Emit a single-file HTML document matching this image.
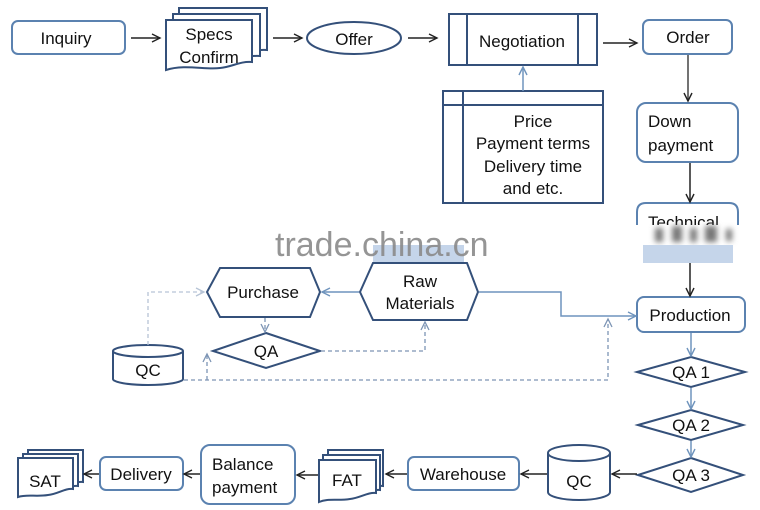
<!DOCTYPE html>
<html><head><meta charset="utf-8"><style>
html,body{margin:0;padding:0;background:#fff;}
svg{display:block;}
text{font-family:"Liberation Sans",Arial,sans-serif;font-size:17px;fill:#111;}
</style></head><body>
<svg width="760" height="510" viewBox="0 0 760 510" xmlns="http://www.w3.org/2000/svg">
<defs>
<marker id="ab" markerUnits="userSpaceOnUse" markerWidth="12" markerHeight="12" refX="9" refY="5" orient="auto">
<path d="M1,1 L9,5 L1,9" fill="none" stroke="#222" stroke-width="1.4"/>
</marker>
<marker id="al" markerUnits="userSpaceOnUse" markerWidth="12" markerHeight="12" refX="9" refY="5" orient="auto">
<path d="M1,1 L9,5 L1,9" fill="none" stroke="#6f94bd" stroke-width="1.4"/>
</marker>
<marker id="ad" markerUnits="userSpaceOnUse" markerWidth="12" markerHeight="12" refX="9" refY="5" orient="auto">
<path d="M1,1 L9,5 L1,9" fill="none" stroke="#7d95b5" stroke-width="1.3"/>
</marker>
<marker id="ag" markerUnits="userSpaceOnUse" markerWidth="12" markerHeight="12" refX="9" refY="5" orient="auto">
<path d="M1,1 L9,5 L1,9" fill="none" stroke="#b7c4d6" stroke-width="1.3"/>
</marker>
<filter id="bl" x="-20%" y="-50%" width="140%" height="200%"><feGaussianBlur stdDeviation="3"/></filter>
</defs>

<!-- Inquiry -->
<rect x="12" y="21" width="113" height="33" rx="6" fill="#fff" stroke="#5b82b0" stroke-width="2"/>
<text x="66" y="44" text-anchor="middle">Inquiry</text>

<!-- Specs Confirm stacked docs -->
<g fill="#fff" stroke="#34507a" stroke-width="2">
<path d="M179,8 H267 V50 C255,49 250,54 240,54 C230,54 200,50 179,52 Z"/>
<path d="M173,14 H260 V56 C248,55 243,60 233,60 C223,60 195,56 173,58 Z"/>
<path d="M166,20 H252 V62 C240,61 232,67 220,68 C205,70 185,64 166,70 Z"/>
</g>
<text x="209" y="40" text-anchor="middle">Specs</text>
<text x="209" y="63" text-anchor="middle">Confirm</text>

<!-- Offer -->
<ellipse cx="354" cy="38" rx="47" ry="16" fill="#fff" stroke="#34507a" stroke-width="2"/>
<text x="354" y="45" text-anchor="middle">Offer</text>

<!-- Negotiation -->
<rect x="449" y="14" width="148" height="51" fill="#fff" stroke="#34507a" stroke-width="2"/>
<line x1="467" y1="14" x2="467" y2="65" stroke="#34507a" stroke-width="2"/>
<line x1="578" y1="14" x2="578" y2="65" stroke="#34507a" stroke-width="2"/>
<text x="522" y="47" text-anchor="middle">Negotiation</text>

<!-- Order -->
<rect x="643" y="20" width="89" height="34" rx="6" fill="#fff" stroke="#5b82b0" stroke-width="2"/>
<text x="688" y="43" text-anchor="middle">Order</text>

<!-- Price box -->
<rect x="443" y="91" width="160" height="112" fill="#fff" stroke="#34507a" stroke-width="2"/>
<line x1="443" y1="105" x2="603" y2="105" stroke="#34507a" stroke-width="2"/>
<line x1="463" y1="91" x2="463" y2="203" stroke="#34507a" stroke-width="2"/>
<text x="533" y="127" text-anchor="middle">Price</text>
<text x="533" y="149" text-anchor="middle">Payment terms</text>
<text x="533" y="172" text-anchor="middle">Delivery time</text>
<text x="533" y="194" text-anchor="middle">and etc.</text>

<!-- Down payment -->
<rect x="637" y="103" width="101" height="59" rx="9" fill="#fff" stroke="#5b82b0" stroke-width="2"/>
<text x="648" y="127">Down</text>
<text x="648" y="151">payment</text>

<!-- Technical (partially hidden) -->
<path d="M637,232 V212 Q637,203 646,203 H729 Q738,203 738,212 V232" fill="#fff" stroke="#5b82b0" stroke-width="2"/>
<text x="648" y="228">Technical</text>
<rect x="620" y="225" width="135" height="20" fill="#fff"/>
<g filter="url(#bl)" fill="#777">
<rect x="655" y="228" width="8" height="14"/>
<rect x="672" y="226" width="10" height="16"/>
<rect x="690" y="228" width="7" height="14"/>
<rect x="705" y="226" width="12" height="16"/>
<rect x="726" y="229" width="6" height="12"/>
</g>
<rect x="643" y="245" width="90" height="18" fill="#c5d5ea"/>

<!-- Raw Materials -->
<rect x="373" y="245" width="91" height="18" fill="#c5d5ea"/>
<polygon points="373,263 467,263 478,292 467,320 373,320 360,292" fill="#fff" stroke="#34507a" stroke-width="2"/>
<text x="420" y="287" text-anchor="middle">Raw</text>
<text x="420" y="309" text-anchor="middle">Materials</text>

<!-- Purchase -->
<polygon points="220,268 310,268 320,292 310,317 220,317 207,292" fill="#fff" stroke="#34507a" stroke-width="2"/>
<text x="263" y="298" text-anchor="middle">Purchase</text>

<!-- QA small -->
<polygon points="266,333 320,351 266,368 213,351" fill="#fff" stroke="#34507a" stroke-width="2"/>
<text x="266" y="357" text-anchor="middle">QA</text>

<!-- QC left cylinder -->
<path d="M113,351 A35,6 0 0,1 183,351 V379 A35,6 0 0,1 113,379 Z" fill="#fff" stroke="#34507a" stroke-width="2"/>
<path d="M113,351 A35,6 0 0,0 183,351" fill="none" stroke="#34507a" stroke-width="2"/>
<text x="148" y="376" text-anchor="middle">QC</text>

<!-- Production -->
<rect x="637" y="297" width="108" height="35" rx="7" fill="#fff" stroke="#5b82b0" stroke-width="2"/>
<text x="690" y="321" text-anchor="middle">Production</text>

<!-- QA 1/2/3 -->
<polygon points="691,357 745,372 691,387 637,372" fill="#fff" stroke="#34507a" stroke-width="2"/>
<text x="691" y="378" text-anchor="middle">QA 1</text>
<polygon points="691,410 743,425 691,440 638,425" fill="#fff" stroke="#34507a" stroke-width="2"/>
<text x="691" y="431" text-anchor="middle">QA 2</text>
<polygon points="691,458 743,475 691,492 638,475" fill="#fff" stroke="#34507a" stroke-width="2"/>
<text x="691" y="481" text-anchor="middle">QA 3</text>

<!-- QC right cylinder -->
<path d="M548,453 A31,8 0 0,1 610,453 V492 A31,8 0 0,1 548,492 Z" fill="#fff" stroke="#34507a" stroke-width="2"/>
<path d="M548,453 A31,8 0 0,0 610,453" fill="none" stroke="#34507a" stroke-width="2"/>
<text x="579" y="487" text-anchor="middle">QC</text>

<!-- Warehouse -->
<rect x="408" y="457" width="111" height="33" rx="6" fill="#fff" stroke="#5b82b0" stroke-width="2"/>
<text x="463" y="480" text-anchor="middle">Warehouse</text>

<!-- FAT docs -->
<g fill="#fff" stroke="#34507a" stroke-width="2">
<path d="M328,450 H383 V486 C375,485 370,490 362,490 C352,490 340,487 328,489 Z"/>
<path d="M323,455 H380 V490 C372,489 367,494 359,494 C349,494 336,491 323,493 Z"/>
<path d="M319,460 H376 V493 C368,492 360,498 350,499 C338,501 328,498 319,502 Z"/>
</g>
<text x="347" y="486" text-anchor="middle">FAT</text>

<!-- Balance payment -->
<rect x="201" y="445" width="94" height="59" rx="9" fill="#fff" stroke="#5b82b0" stroke-width="2"/>
<text x="212" y="470">Balance</text>
<text x="212" y="493">payment</text>

<!-- Delivery -->
<rect x="100" y="457" width="83" height="33" rx="6" fill="#fff" stroke="#5b82b0" stroke-width="2"/>
<text x="141" y="480" text-anchor="middle">Delivery</text>

<!-- SAT docs -->
<g fill="#fff" stroke="#34507a" stroke-width="2">
<path d="M28,450 H83 V482 C75,481 70,486 62,486 C52,486 40,483 28,485 Z"/>
<path d="M23,454 H78 V486 C70,485 65,490 57,490 C47,490 35,487 23,489 Z"/>
<path d="M18,458 H73 V489 C65,488 58,494 48,495 C36,497 27,494 18,497 Z"/>
</g>
<text x="45" y="487" text-anchor="middle">SAT</text>

<!-- black connectors -->
<g stroke="#222" stroke-width="1.5" fill="none">
<line x1="131" y1="38" x2="160" y2="38" marker-end="url(#ab)"/>
<line x1="273" y1="38" x2="302" y2="38" marker-end="url(#ab)"/>
<line x1="408" y1="38" x2="437" y2="38" marker-end="url(#ab)"/>
<line x1="603" y1="43" x2="637" y2="43" marker-end="url(#ab)"/>
<line x1="688" y1="55" x2="688" y2="101" stroke="#444" marker-end="url(#ab)"/>
<line x1="690" y1="163" x2="690" y2="202" marker-end="url(#ab)"/>
<line x1="690" y1="263" x2="690" y2="296" marker-end="url(#ab)"/>
<line x1="637" y1="474" x2="612" y2="474" marker-end="url(#ab)"/>
<line x1="547" y1="474" x2="521" y2="474" marker-end="url(#ab)"/>
<line x1="407" y1="474" x2="386" y2="474" marker-end="url(#ab)"/>
<line x1="318" y1="475" x2="297" y2="475" marker-end="url(#ab)"/>
<line x1="200" y1="474" x2="184" y2="474" marker-end="url(#ab)"/>
<line x1="99" y1="474" x2="84" y2="474" marker-end="url(#ab)"/>
</g>

<!-- light blue connectors -->
<g stroke="#6f94bd" stroke-width="1.5" fill="none">
<line x1="523" y1="91" x2="523" y2="67" marker-end="url(#al)"/>
<line x1="691" y1="333" x2="691" y2="356" marker-end="url(#al)"/>
<line x1="691" y1="388" x2="691" y2="409" marker-end="url(#al)"/>
<line x1="691" y1="441" x2="691" y2="457" marker-end="url(#al)"/>
<line x1="359" y1="292" x2="322" y2="292" marker-end="url(#al)"/>
<polyline points="479,292 561,292 561,316 636,316" marker-end="url(#al)"/>
</g>

<!-- dashed connectors -->
<g stroke="#7d95b5" stroke-width="1.3" fill="none" stroke-dasharray="4,3">
<line x1="265" y1="318" x2="265" y2="332" marker-end="url(#ad)"/>
<polyline points="321,351 425,351 425,322" marker-end="url(#ad)"/>
<polyline points="184,380 608,380 608,319" marker-end="url(#ad)"/>
<line x1="207" y1="380" x2="207" y2="354" marker-end="url(#ad)"/>
</g>
<polyline points="148,345 148,292 204,292" stroke="#b7c4d6" stroke-width="1.3" fill="none" stroke-dasharray="4,3" marker-end="url(#ag)"/>

<!-- watermark -->
<text x="275" y="256" style="font-size:34px;fill:#8a8a8a;fill-opacity:0.9">trade.china.cn</text>
</svg>
</body></html>
